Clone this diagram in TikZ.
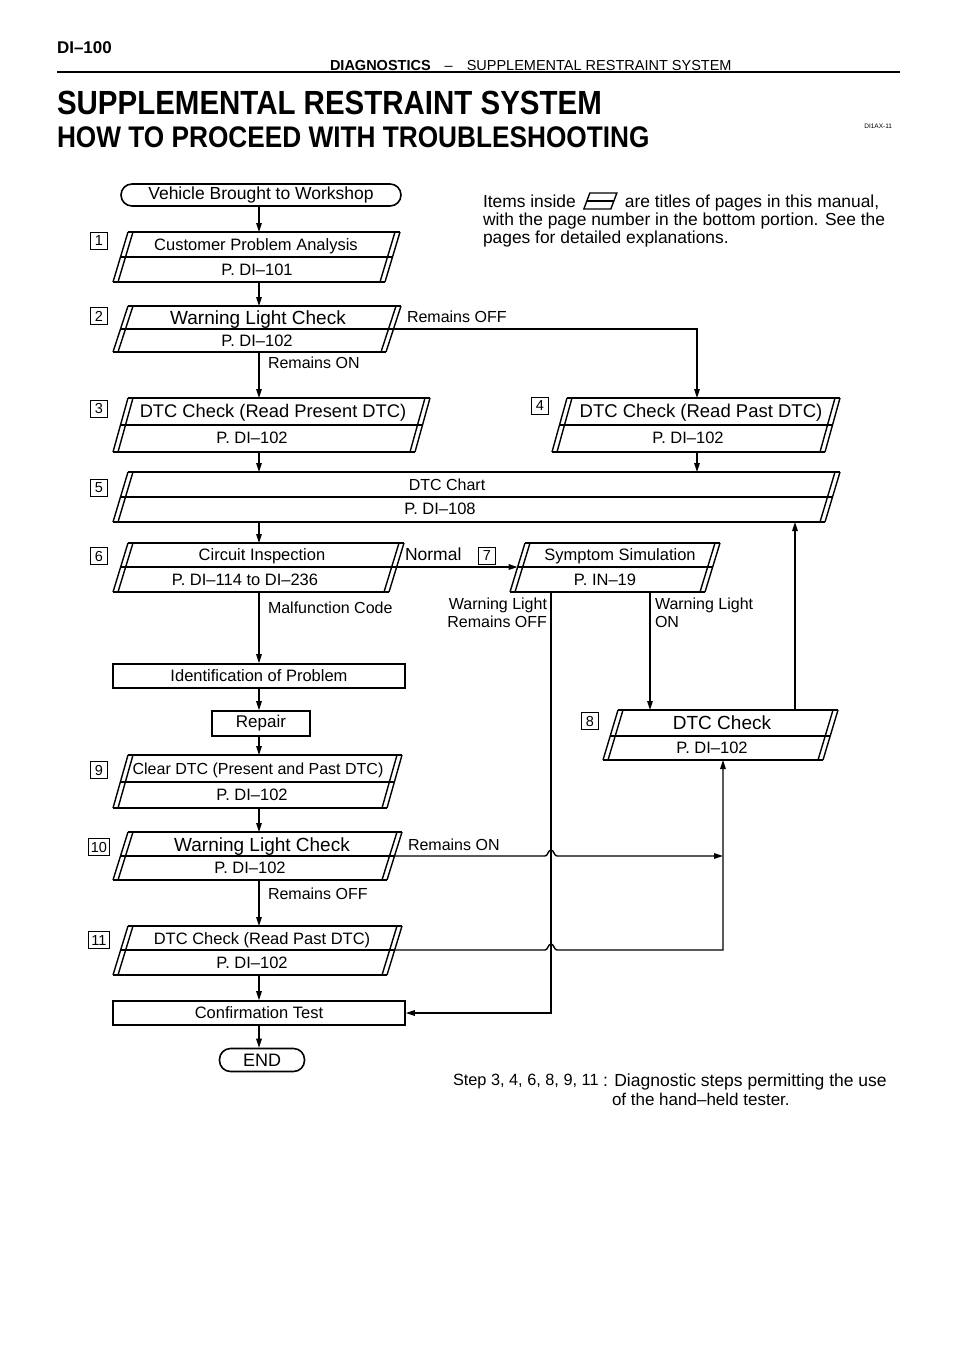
\documentclass[tikz,border=0pt]{standalone}
\usepackage{fontspec}
\setmainfont{Liberation Sans}
\newfontfamily\condbold[FakeStretch=0.88]{Liberation Sans}
\usetikzlibrary{arrows.meta,calc}
\newcommand\fs[1]{\fontsize{#1}{#1}\selectfont}
\def\pslant{15}
\def\pdd{5}
% parallelogram: name, x-left(bottom), x-right(top), y-top, y-bottom, y-mid
\newcommand\pgram[6]{%
  \node[inner sep=0pt,outer sep=0pt,minimum width={(#3)-(#2)},minimum height={(#5)-(#4)}] (#1) at ({((#2)+(#3))/2},{((#4)+(#5))/2}) {};
  \draw[pedge] ({#2+\pslant},#4) -- (#3,#4);
  \draw[pedge] (#2,#5) -- ({#3-\pslant},#5);
  \draw[pside] ({#2+\pslant},#4) -- (#2,#5);
  \draw[pside] ({#2+\pslant+\pdd},#4) -- ({#2+\pdd},#5);
  \draw[pside] (#3,#4) -- ({#3-\pslant},#5);
  \draw[pside] ({#3-\pdd},#4) -- ({#3-\pslant-\pdd},#5);
  \coordinate (#1-l) at ({#2+\pslant*(#5-#6)/(#5-#4)},#6);
  \coordinate (#1-r) at ({#3-\pslant*(#6-#4)/(#5-#4)},#6);
  \draw[pmid] (#1-l) -- (#1-r);
}
% text: [anchor] name, x, y, size, text
\newcommand\tx[6][center]{%
  \pgfmathsetmacro\mytth{0.72*#5}%
  \node[inner sep=0pt,outer sep=0pt,text height=\mytth pt,text depth=0pt,font=\fs{#5},anchor=#1] (#2) at (#3,#4) {#6};}
\begin{document}
\begin{tikzpicture}[x=1pt,y=-1pt,
  ln/.style={line width=1.4pt},
  arr/.style={line width=1.4pt,-{Triangle[length=9pt,width=5.5pt]}},
  pedge/.style={line width=2.2pt},
  pside/.style={line width=1.4pt},
  pmid/.style={line width=1.4pt},
  rbox/.style={draw,line width=1.6pt,inner sep=0pt},
  stepno/.style={draw,line width=1.1pt,inner sep=0pt,minimum height=17pt,minimum width=17pt,font=\fs{14.5}},
]
\fill[white] (0,0) rectangle (960,1358);
\useasboundingbox (0,0) rectangle (960,1358);

% ---------- header ----------
\tx[west]{hdpage}{57}{47}{17}{\bfseries DI--100}
\tx[west]{hdsec}{330}{65}{14.5}{\bfseries\underline{DIAGNOSTICS}\hspace{14pt}\mdseries --\hspace{14pt}SUPPLEMENTAL RESTRAINT SYSTEM}
\draw[line width=2.5pt] (57,72) -- (900,72);
\tx[west]{title1}{57}{102}{33.5}{\condbold\bfseries SUPPLEMENTAL RESTRAINT SYSTEM}
\tx[west]{title2}{57}{137}{29.8}{\condbold\bfseries HOW TO PROCEED WITH TROUBLESHOOTING}
\tx[east]{docid}{892}{126}{6.5}{DI1AX-11}

% ---------- legend ----------
\tx[west]{leg1}{483}{201}{17.4}{Items inside}
\coordinate (ic) at ($(leg1.east)+(8,0)$);
\draw[line width=1.4pt] ($(ic)+(0,8)$) -- ($(ic)+(27,8)$) -- ($(ic)+(33,-8)$) -- ($(ic)+(6,-8)$) -- cycle;
\draw[line width=1.1pt] ($(ic)+(3,0)$) -- ($(ic)+(30,0)$);
\tx[west]{leg1b}{$(ic)+(41,0)$}{}{17.4}{are titles of pages in this manual,}
\tx[west]{leg2}{483}{219}{17.4}{with the page number in the bottom portion. See the}
\tx[west]{leg3}{483}{237}{17.4}{pages for detailed explanations.}

% ---------- flow nodes ----------
\coordinate (col) at (259,0);
\node[rbox,rounded corners=11pt,minimum width=280pt,minimum height=22pt,font=\fs{17.5}] (start) at (261,195) {Vehicle Brought to Workshop};

\pgram{n1}{113}{400}{232}{282}{257}
\tx{n1t}{256}{245}{16.5}{Customer Problem Analysis}
\tx{n1b}{257}{270}{16.5}{P. DI--101}
\node[stepno] (s1) at (99,241) {1};

\pgram{n2}{113}{401}{306}{352}{329}
\tx{n2t}{258}{318}{19}{Warning Light Check}
\tx{n2b}{257}{341}{16.5}{P. DI--102}
\node[stepno] (s2) at (99,316) {2};

\pgram{n3}{113}{430}{398}{452}{425}
\tx{n3t}{273}{411}{18.3}{DTC Check (Read Present DTC)}
\tx{n3b}{252}{438}{16.5}{P. DI--102}
\node[stepno] (s3) at (99,409) {3};

\pgram{n4}{552}{840}{398}{452}{425}
\tx{n4t}{701}{411}{18.5}{DTC Check (Read Past DTC)}
\tx{n4b}{688}{438}{16.5}{P. DI--102}
\node[stepno] (s4) at (540,406) {4};

\pgram{n5}{113}{840}{472}{522}{497}
\tx{n5t}{447}{485}{16}{DTC Chart}
\tx{n5b}{440}{509}{16.5}{P. DI--108}
\node[stepno] (s5) at (99,488) {5};

\pgram{n6}{113}{404}{543}{592}{567}
\tx{n6t}{262}{555}{16.5}{Circuit Inspection}
\tx{n6b}{245}{580}{16.5}{P. DI--114 to DI--236}
\node[stepno] (s6) at (99,556) {6};

\pgram{n7}{510}{720}{543}{592}{567}
\tx{n7t}{620}{555}{16.5}{Symptom Simulation}
\tx{n7b}{605}{580}{16.5}{P. IN--19}
\node[stepno] (s7) at (487,556) {7};

\pgram{n8}{603}{838}{710}{760}{736}
\tx{n8t}{722}{723}{19}{DTC Check}
\tx{n8b}{712}{748}{16.5}{P. DI--102}
\node[stepno] (s8) at (590,721) {8};

\node[rbox,minimum width=292pt,minimum height=24pt,font=\fs{16.5}] (ident) at (259,676) {Identification of Problem};
\node[rbox,minimum width=98pt,minimum height=25pt,font=\fs{17}] (repair) at (261,723.5) {Repair};

\pgram{n9}{113}{402}{755}{808}{782}
\tx{n9t}{258}{769}{16}{Clear DTC (Present and Past DTC)}
\tx{n9b}{252}{795}{16.5}{P. DI--102}
\node[stepno] (s9) at (99,770) {9};

\pgram{n10}{113}{402}{832}{880}{856}
\tx{n10t}{262}{845}{19}{Warning Light Check}
\tx{n10b}{250}{868}{16.5}{P. DI--102}
\node[stepno,minimum width=21pt] (s10) at (99,847) {10};

\pgram{n11}{113}{402}{926}{975}{950}
\tx{n11t}{262}{939}{16.5}{DTC Check (Read Past DTC)}
\tx{n11b}{252}{963}{16.5}{P. DI--102}
\node[stepno,minimum width=21pt] (s11) at (99,940) {11};

\node[rbox,minimum width=292pt,minimum height=24pt,font=\fs{16.5}] (confirm) at (259,1013) {Confirmation Test};
\node[rbox,rounded corners=11pt,minimum width=85pt,minimum height=23pt,font=\fs{18}] (endn) at (262,1060) {END};

% ---------- connectors ----------
\draw[arr] (start.south -| col) -- (n1.north -| col);
\draw[arr] (n1.south -| col) -- (n2.north -| col);
\draw[arr] (n2.south -| col) -- (n3.north -| col);
\draw[arr] (n3.south -| col) -- (n5.north -| col);
\draw[arr] (n5.south -| col) -- (n6.north -| col);
\draw[arr] (n6.south -| col) -- (ident.north -| col);
\draw[arr] (ident.south -| col) -- (repair.north -| col);
\draw[arr] (repair.south -| col) -- (n9.north -| col);
\draw[arr] (n9.south -| col) -- (n10.north -| col);
\draw[arr] (n10.south -| col) -- (n11.north -| col);
\draw[arr] (n11.south -| col) -- (confirm.north -| col);
\draw[arr] (confirm.south -| col) -- (endn.north -| col);

\coordinate (c4) at (697,0);
\coordinate (c7a) at (551,0);
\coordinate (c7b) at (650,0);
\coordinate (c8) at (723,0);
\coordinate (c5u) at (795,0);
\draw[arr] (n2-r) -- (n2-r -| c4) -- (n4.north -| c4);
\draw[arr] (n4.south -| c4) -- (n5.north -| c4);
\draw[arr] (n6-r) -- (n7-l);
\draw[arr] (n7.south -| c7a) -- (confirm.east -| c7a) -- (confirm.east);
\draw[arr] (n7.south -| c7b) -- (n8.north -| c7b);
\draw[arr] (n8.north -| c5u) -- (n5.south -| c5u);
\draw[arr] (n10-r) -- ($(n10-r -| c7a)+(-6,0)$) .. controls +(3,0) and +(-3,0) .. ($(n10-r -| c7a)+(0,-6)$) .. controls +(3,0) and +(-3,0) .. ($(n10-r -| c7a)+(6,0)$) -- (n10-r -| c8);
\draw[arr] (n11-r) -- ($(n11-r -| c7a)+(-6,0)$) .. controls +(3,0) and +(-3,0) .. ($(n11-r -| c7a)+(0,-6)$) .. controls +(3,0) and +(-3,0) .. ($(n11-r -| c7a)+(6,0)$) -- (n11-r -| c8) -- (n8.south -| c8);

% ---------- connector labels ----------
\tx[west]{lRoff}{407}{317}{16}{Remains OFF}
\tx[west]{lRon}{268}{363}{16}{Remains ON}
\tx[west]{lNorm}{405}{554}{17.5}{Normal}
\tx[west]{lMal}{268}{608}{16}{Malfunction Code}
\tx[east]{lWL1}{547}{604}{16}{Warning Light}
\tx[east]{lWL2}{547}{622}{16}{Remains OFF}
\tx[west]{lWO1}{655}{604}{16}{Warning Light}
\tx[west]{lWO2}{655}{622}{16}{ON}
\tx[west]{lRon2}{408}{845}{16}{Remains ON}
\tx[west]{lRoff2}{268}{894}{16}{Remains OFF}

% ---------- footnote ----------
\tx[west]{note1}{453}{1080}{16.3}{Step 3, 4, 6, 8, 9, 11}
\tx[west]{note2}{603}{1080}{17.5}{: Diagnostic steps permitting the use}
\tx[west]{note3}{612}{1099}{17}{of the hand--held tester.}
\end{tikzpicture}
\end{document}
